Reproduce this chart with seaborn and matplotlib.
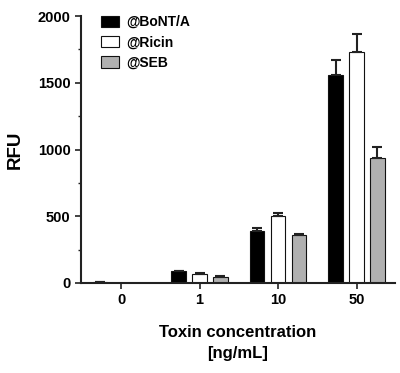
import matplotlib
matplotlib.use("Agg")
import matplotlib.pyplot as plt
import seaborn as sns
import pandas as pd
import numpy as np

concentrations = ["0", "1", "10", "50"]
series = ["@BoNT/A", "@Ricin", "@SEB"]
bont_vals = [8, 88, 390, 1560]
ricin_vals = [0, 67, 500, 1730]
seb_vals = [0, 48, 362, 940]
bont_err = [3, 5, 22, 110]
ricin_err = [0, 5, 25, 135]
seb_err = [0, 4, 8, 80]

colors = {"@BoNT/A": "#000000", "@Ricin": "#ffffff", "@SEB": "#b0b0b0"}

rows = []
for name, vals, errs in zip(series, [bont_vals, ricin_vals, seb_vals], [bont_err, ricin_err, seb_err]):
    for c, v, e in zip(concentrations, vals, errs):
        rows.append({"conc": c, "series": name, "value": v, "err": e})
df = pd.DataFrame(rows)

sns.set_style("ticks")
plt.rcParams["font.family"] = ["Liberation Sans", "DejaVu Sans"]
plt.rcParams["font.weight"] = "bold"
plt.rcParams["text.color"] = "black"
plt.rcParams["axes.labelcolor"] = "black"

fig = plt.figure(figsize=(4.0, 3.73), dpi=100)
ax = fig.add_axes([0.2025, 0.2413, 0.785, 0.7157])

sns.barplot(data=df, x="conc", y="value", hue="series", order=concentrations,
            hue_order=series, palette=colors, errorbar=None, gap=0.3,
            edgecolor="#111111", linewidth=0.8, ax=ax, legend=True)

# error bars (upper only)
for cont, name in zip(ax.containers, series):
    sub = df[df["series"] == name].set_index("conc").loc[concentrations]
    for patch, v, e in zip(cont.patches, sub["value"], sub["err"]):
        if e <= 0:
            continue
        xc = patch.get_x() + patch.get_width() / 2
        ax.errorbar(xc, v, yerr=[[0], [e]], fmt="none", ecolor="#222222",
                    elinewidth=1.5, capsize=3.6, capthick=1.5, zorder=1)

ax.set_xlim(-0.51, 3.49)
ax.set_ylim(0, 2000)
ax.set_yticks([0, 500, 1000, 1500, 2000])
ax.set_yticks([250, 750, 1250, 1750], minor=True)
ax.tick_params(axis="both", which="major", labelsize=10.5, width=1.2, length=4, colors="#222222", labelcolor="black")
ax.tick_params(axis="y", which="minor", width=1.0, length=2.5, colors="#222222")
for lab in ax.get_xticklabels() + ax.get_yticklabels():
    lab.set_fontweight("bold")

for s in ["top", "right"]:
    ax.spines[s].set_visible(False)
for s in ["left", "bottom"]:
    ax.spines[s].set_linewidth(1.5)
    ax.spines[s].set_color("#222222")

ax.set_ylabel("RFU", fontsize=13.5, fontweight="bold", labelpad=10)
ax.set_xlabel("Toxin concentration\n[ng/mL]", fontsize=12, fontweight="bold", labelpad=13, linespacing=1.45)

leg = ax.legend(loc="upper left", bbox_to_anchor=(0.025, 1.05), frameon=False,
                prop={"weight": "bold", "size": 10}, handlelength=1.3, handleheight=0.9,
                labelspacing=0.45, handletextpad=0.5)

fig.savefig("out.png", dpi=100)
